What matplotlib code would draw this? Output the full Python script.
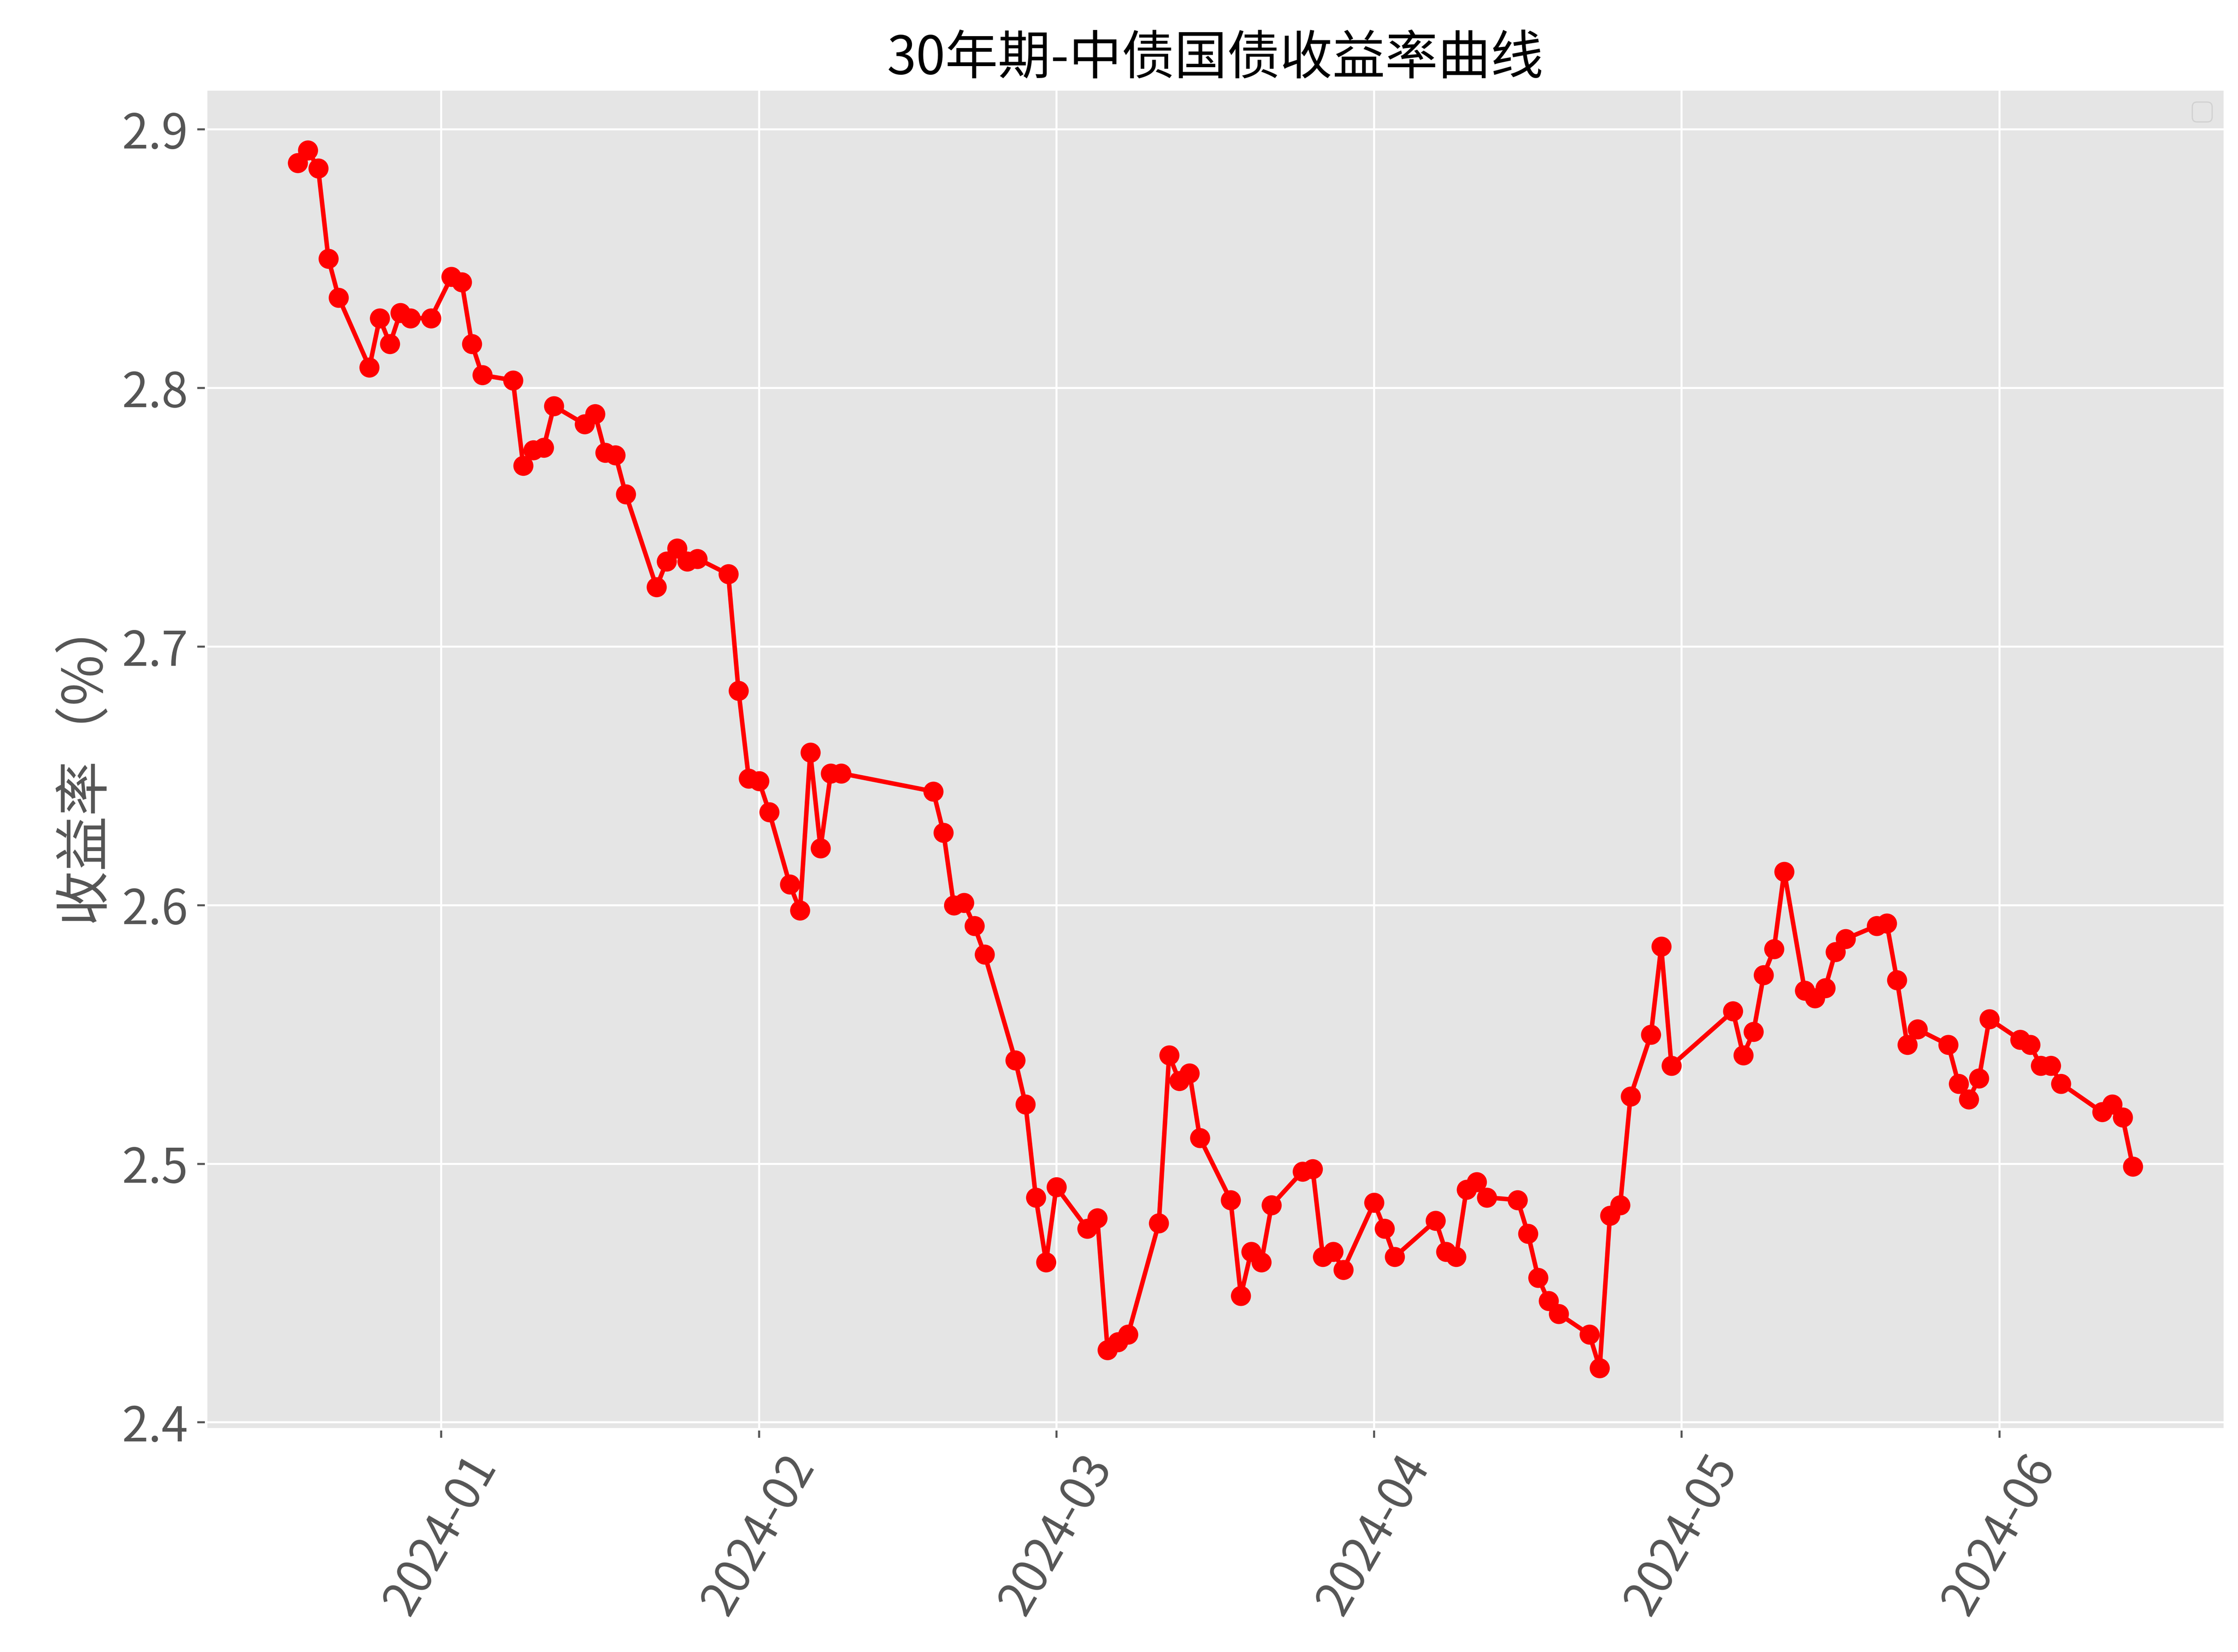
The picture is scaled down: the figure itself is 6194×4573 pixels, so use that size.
import matplotlib

matplotlib.use("Agg")

import matplotlib.dates as mdates
import matplotlib.pyplot as plt
import pandas as pd

plt.style.use("ggplot")
plt.rcParams["font.family"] = ["Noto Sans CJK SC", "DejaVu Sans"]
plt.rcParams["axes.unicode_minus"] = False

dates = [
    "2023-12-18", "2023-12-19", "2023-12-20", "2023-12-21", "2023-12-22",
    "2023-12-25", "2023-12-26", "2023-12-27", "2023-12-28", "2023-12-29",
    "2023-12-31", "2024-01-02", "2024-01-03", "2024-01-04", "2024-01-05",
    "2024-01-08", "2024-01-09", "2024-01-10", "2024-01-11", "2024-01-12",
    "2024-01-15", "2024-01-16", "2024-01-17", "2024-01-18", "2024-01-19",
    "2024-01-22", "2024-01-23", "2024-01-24", "2024-01-25", "2024-01-26",
    "2024-01-29", "2024-01-30", "2024-01-31", "2024-02-01", "2024-02-02",
    "2024-02-04", "2024-02-05", "2024-02-06", "2024-02-07", "2024-02-08",
    "2024-02-09", "2024-02-18", "2024-02-19", "2024-02-20", "2024-02-21",
    "2024-02-22", "2024-02-23", "2024-02-26", "2024-02-27", "2024-02-28",
    "2024-02-29", "2024-03-01", "2024-03-04", "2024-03-05", "2024-03-06",
    "2024-03-07", "2024-03-08", "2024-03-11", "2024-03-12", "2024-03-13",
    "2024-03-14", "2024-03-15", "2024-03-18", "2024-03-19", "2024-03-20",
    "2024-03-21", "2024-03-22", "2024-03-25", "2024-03-26", "2024-03-27",
    "2024-03-28", "2024-03-29", "2024-04-01", "2024-04-02", "2024-04-03",
    "2024-04-07", "2024-04-08", "2024-04-09", "2024-04-10", "2024-04-11",
    "2024-04-12", "2024-04-15", "2024-04-16", "2024-04-17", "2024-04-18",
    "2024-04-19", "2024-04-22", "2024-04-23", "2024-04-24", "2024-04-25",
    "2024-04-26", "2024-04-28", "2024-04-29", "2024-04-30", "2024-05-06",
    "2024-05-07", "2024-05-08", "2024-05-09", "2024-05-10", "2024-05-11",
    "2024-05-13", "2024-05-14", "2024-05-15", "2024-05-16", "2024-05-17",
    "2024-05-20", "2024-05-21", "2024-05-22", "2024-05-23", "2024-05-24",
    "2024-05-27", "2024-05-28", "2024-05-29", "2024-05-30", "2024-05-31",
    "2024-06-03", "2024-06-04", "2024-06-05", "2024-06-06", "2024-06-07",
    "2024-06-11", "2024-06-12", "2024-06-13", "2024-06-14",
]

yields = [
    2.887, 2.892, 2.885, 2.850, 2.835,
    2.808, 2.827, 2.817, 2.829, 2.827,
    2.827, 2.843, 2.841, 2.817, 2.805,
    2.803, 2.770, 2.776, 2.777, 2.793,
    2.786, 2.790, 2.775, 2.774, 2.759,
    2.723, 2.733, 2.738, 2.733, 2.734,
    2.728, 2.683, 2.649, 2.648, 2.636,
    2.608, 2.598, 2.659, 2.622, 2.651,
    2.651, 2.644, 2.628, 2.600, 2.601,
    2.592, 2.581, 2.540, 2.523, 2.487,
    2.462, 2.491, 2.475, 2.479, 2.428,
    2.431, 2.434, 2.477, 2.542, 2.532,
    2.535, 2.510, 2.486, 2.449, 2.466,
    2.462, 2.484, 2.497, 2.498, 2.464,
    2.466, 2.459, 2.485, 2.475, 2.464,
    2.478, 2.466, 2.464, 2.490, 2.493,
    2.487, 2.486, 2.473, 2.456, 2.447,
    2.442, 2.434, 2.421, 2.480, 2.484,
    2.526, 2.550, 2.584, 2.538, 2.559,
    2.542, 2.551, 2.573, 2.583, 2.613,
    2.567, 2.564, 2.568, 2.582, 2.587,
    2.592, 2.593, 2.571, 2.546, 2.552,
    2.546, 2.531, 2.525, 2.533, 2.556,
    2.548, 2.546, 2.538, 2.538, 2.531,
    2.520, 2.523, 2.518, 2.499,
]

x = pd.to_datetime(dates)

fig, ax = plt.subplots(figsize=(12.388, 9.146))
fig.subplots_adjust(left=0.092, right=0.994, top=0.946, bottom=0.135)

ax.plot(x, yields, color="red", marker="o", markersize=7, linewidth=1.8)

ax.set_title("30年期-中债国债收益率曲线", fontsize=21, color="black")
ax.set_ylabel("收益率（%）", fontsize=22)
ax.tick_params(axis="both", labelsize=19)
ax.set_yticks([2.4, 2.5, 2.6, 2.7, 2.8, 2.9])
ax.xaxis.set_major_locator(mdates.MonthLocator())
ax.xaxis.set_major_formatter(mdates.DateFormatter("%Y-%m"))
plt.setp(ax.get_xticklabels(), rotation=60)
ax.legend()

fig.savefig("out.png", dpi=500)
